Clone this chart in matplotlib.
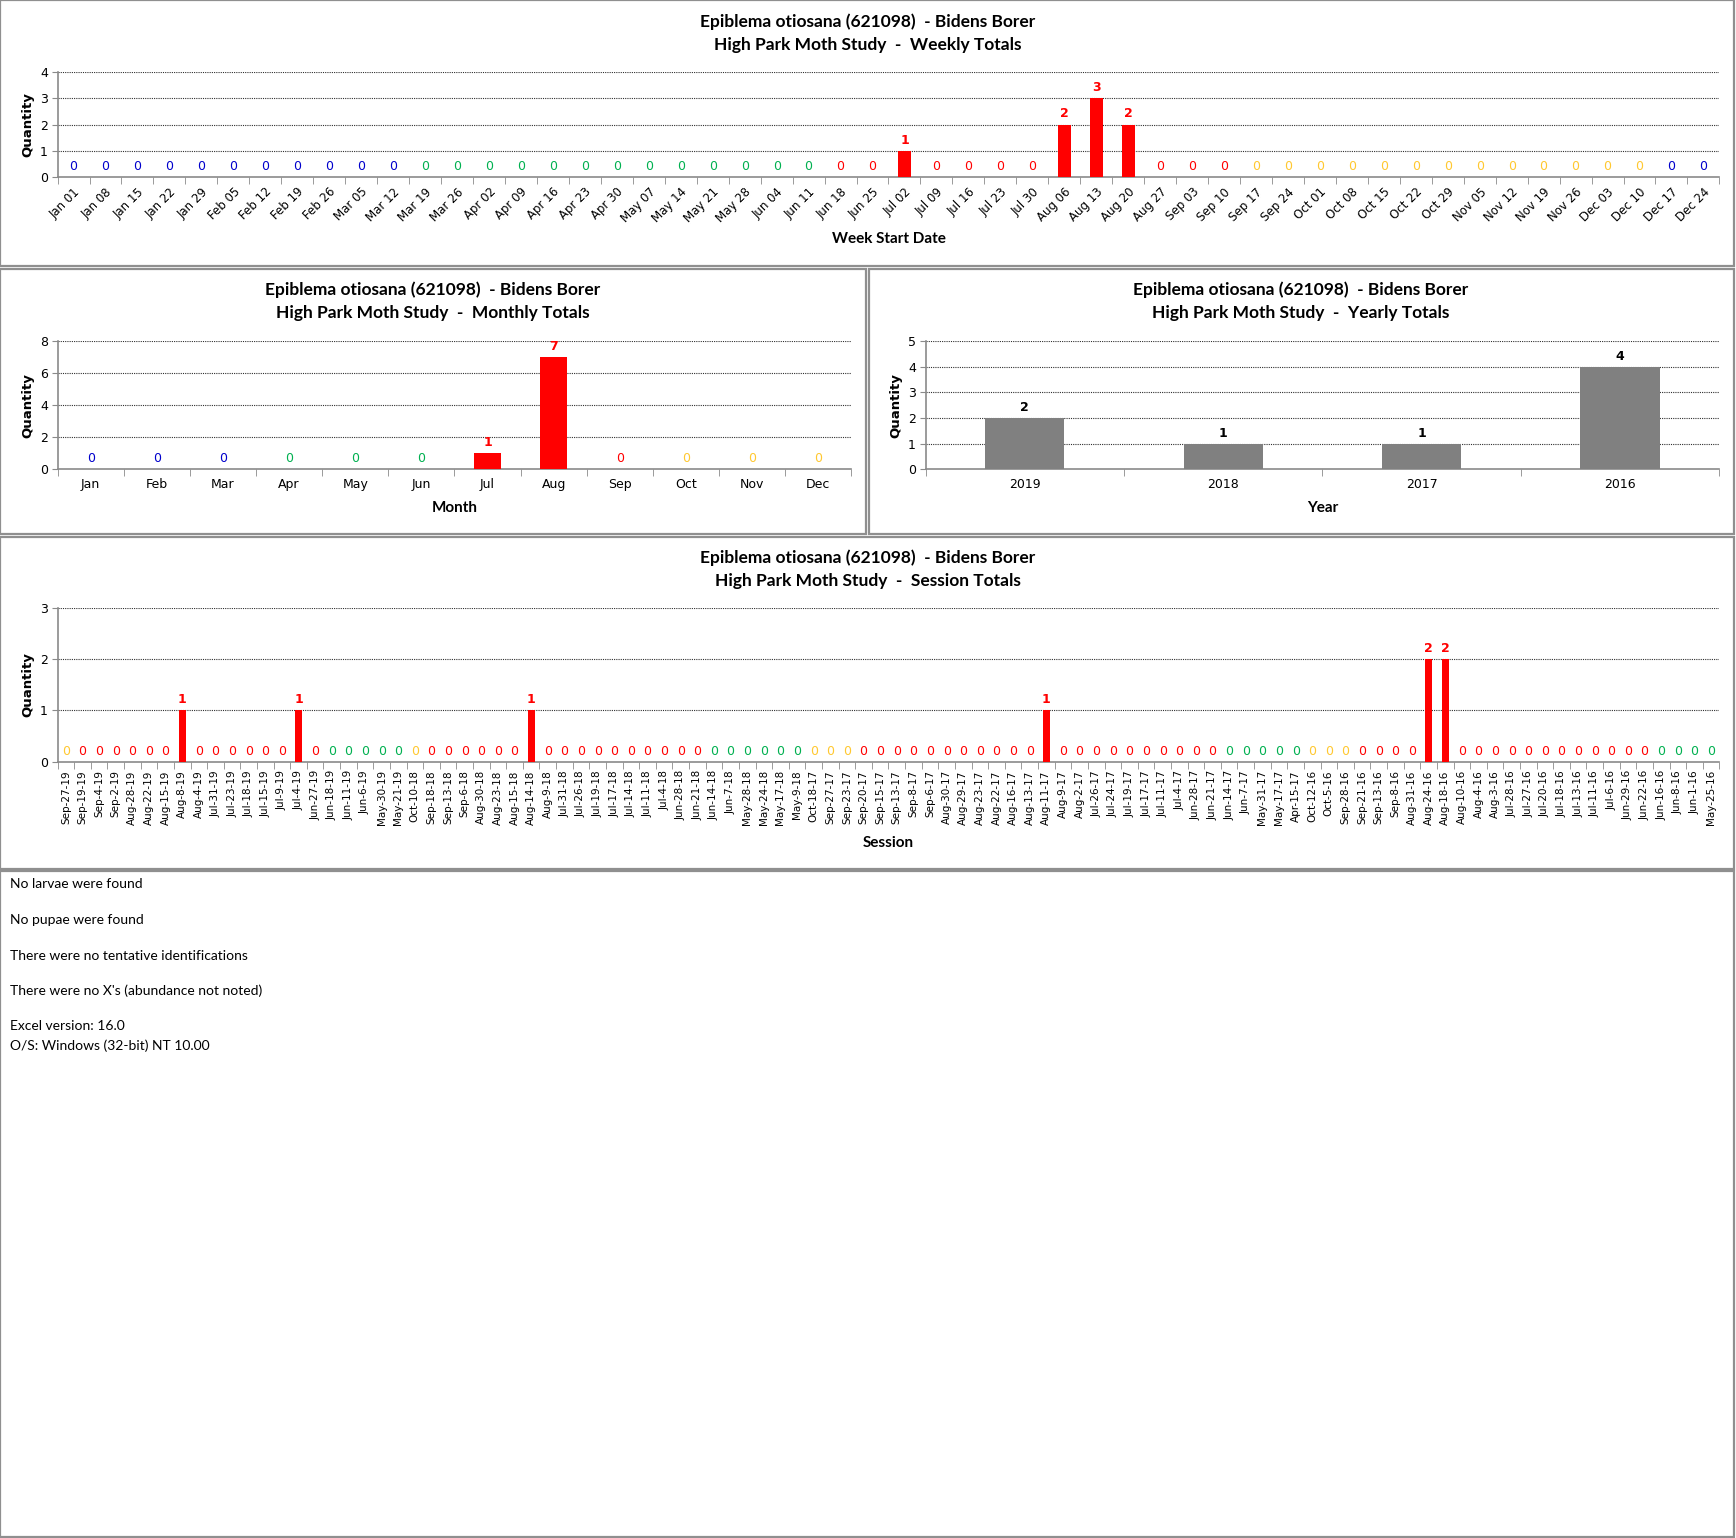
import matplotlib
matplotlib.use("Agg")
import matplotlib.pyplot as plt
from matplotlib.patches import Rectangle
from datetime import datetime, timedelta
import numpy as np

# ---- data ----
species = "Epiblema otiosana (621098)  - Bidens Borer"

week_labels = ["Jan 01", "Jan 08", "Jan 15", "Jan 22", "Jan 29", "Feb 05", "Feb 12", "Feb 19",
               "Feb 26", "Mar 05", "Mar 12", "Mar 19", "Mar 26", "Apr 02", "Apr 09", "Apr 16",
               "Apr 23", "Apr 30", "May 07", "May 14", "May 21", "May 28", "Jun 04", "Jun 11",
               "Jun 18", "Jun 25", "Jul 02", "Jul 09", "Jul 16", "Jul 23", "Jul 30", "Aug 06",
               "Aug 13", "Aug 20", "Aug 27", "Sep 03", "Sep 10", "Sep 17", "Sep 24", "Oct 01",
               "Oct 08", "Oct 15", "Oct 22", "Oct 29", "Nov 05", "Nov 12", "Nov 19", "Nov 26",
               "Dec 03", "Dec 10", "Dec 17", "Dec 24"]
week_values = [0] * 52
week_values[week_labels.index("Jul 02")] = 1
week_values[week_labels.index("Aug 06")] = 2
week_values[week_labels.index("Aug 13")] = 3
week_values[week_labels.index("Aug 20")] = 2

month_labels = ["Jan", "Feb", "Mar", "Apr", "May", "Jun", "Jul", "Aug", "Sep", "Oct", "Nov", "Dec"]
month_values = [0, 0, 0, 0, 0, 0, 1, 7, 0, 0, 0, 0]

year_labels = ["2019", "2018", "2017", "2016"]
year_values = [2, 1, 1, 4]

session_labels = [
    "Sep-27-19", "Sep-19-19", "Sep-4-19", "Sep-2-19", "Aug-28-19", "Aug-22-19", "Aug-15-19",
    "Aug-8-19", "Aug-4-19", "Jul-31-19", "Jul-23-19", "Jul-18-19", "Jul-15-19", "Jul-9-19",
    "Jul-4-19", "Jun-27-19", "Jun-18-19", "Jun-11-19", "Jun-6-19", "May-30-19", "May-21-19",
    "Oct-10-18", "Sep-18-18", "Sep-13-18", "Sep-6-18", "Aug-30-18", "Aug-23-18", "Aug-15-18",
    "Aug-14-18", "Aug-9-18", "Jul-31-18", "Jul-26-18", "Jul-19-18", "Jul-17-18", "Jul-14-18",
    "Jul-11-18", "Jul-4-18", "Jun-28-18", "Jun-21-18", "Jun-14-18", "Jun-7-18", "May-28-18",
    "May-24-18", "May-17-18", "May-9-18",
    "Oct-18-17", "Sep-27-17", "Sep-23-17", "Sep-20-17", "Sep-15-17", "Sep-13-17", "Sep-8-17",
    "Sep-6-17", "Aug-30-17", "Aug-29-17", "Aug-23-17", "Aug-22-17", "Aug-16-17", "Aug-13-17",
    "Aug-11-17", "Aug-9-17", "Aug-2-17", "Jul-26-17", "Jul-24-17", "Jul-19-17", "Jul-17-17",
    "Jul-11-17", "Jul-4-17", "Jun-28-17", "Jun-21-17", "Jun-14-17", "Jun-7-17", "May-31-17",
    "May-17-17", "Apr-15-17",
    "Oct-12-16", "Oct-5-16", "Sep-28-16", "Sep-21-16", "Sep-13-16", "Sep-8-16", "Aug-31-16",
    "Aug-24-16", "Aug-18-16", "Aug-10-16", "Aug-4-16", "Aug-3-16", "Jul-28-16", "Jul-27-16",
    "Jul-20-16", "Jul-18-16", "Jul-13-16", "Jul-11-16", "Jul-6-16", "Jun-29-16", "Jun-22-16",
    "Jun-16-16", "Jun-8-16", "Jun-1-16", "May-25-16"]
session_values = [0] * len(session_labels)
for s, v in [("Aug-8-19", 1), ("Jul-4-19", 1), ("Aug-14-18", 1), ("Aug-11-17", 1),
             ("Aug-24-16", 2), ("Aug-18-16", 2)]:
    session_values[session_labels.index(s)] = v

notes = ["No larvae were found", "No pupae were found", "There were no tentative identifications",
         "There were no X's (abundance not noted)", "Excel version: 16.0",
         "O/S: Windows (32-bit) NT 10.00"]

# ---- style ----
BLUE, GREEN, RED, YELLOW = "#0000CC", "#00B050", "#FF0000", "#FFC830"
TITLE_FONT = "Lato"
TICK_FONT = "DejaVu Sans"


def season(month, day):
    md = (month, day)
    if md >= (12, 21) or md < (3, 20):
        return BLUE
    if md < (6, 21):
        return GREEN
    if md < (9, 22):
        return RED
    return YELLOW


week_colors = []
for w in week_labels:
    d = datetime.strptime(w + " 2018", "%b %d %Y") + timedelta(days=6)
    week_colors.append(season(d.month, d.day))
month_colors = [season(i + 1, 15) for i in range(12)]
session_colors = []
for s in session_labels:
    d = datetime.strptime(s, "%b-%d-%y")
    session_colors.append(season(d.month, d.day))
year_colors = ["black"] * 4

W0, H0 = 1568, 1389  # layout measured on a 1568x1389 grid


def fx(x):
    return x / W0


def fy(y):
    return 1 - y / H0


fig = plt.figure(figsize=(17.36, 15.38), dpi=100)


def panel(x0, y0, x1, y1):
    fig.patches.append(Rectangle((fx(x0), fy(y1)), fx(x1) - fx(x0), fy(y0) - fy(y1),
                                 transform=fig.transFigure, fill=False,
                                 edgecolor="#8f8f8f", lw=1.6))


def chart(box, labels, values, colors, ymax, ystep, bar_color, rot, tick_fs):
    x0, y0, x1, y1 = box
    ax = fig.add_axes([fx(x0), fy(y1), fx(x1) - fx(x0), fy(y0) - fy(y1)])
    n = len(labels)
    pos = np.arange(n)
    ax.bar(pos, values, width=0.4, color=bar_color, zorder=3)
    ax.set_xlim(-0.5, n - 0.5)
    ax.set_ylim(0, ymax)
    ax.set_yticks(range(0, ymax + 1, ystep))
    for yv in range(ystep, ymax + 1, ystep):
        ax.axhline(yv, color="#303030", lw=0.8, ls=(0, (1, 1)), zorder=1)
    for s in ["top", "right"]:
        ax.spines[s].set_visible(False)
    for s in ["left", "bottom"]:
        ax.spines[s].set_color("#8a8a8a")
        ax.spines[s].set_linewidth(1.2)
    ax.set_xticks(pos)
    if rot == 45:
        ax.set_xticklabels(labels, rotation=45, ha="right", rotation_mode="anchor",
                           fontsize=tick_fs, family=TICK_FONT)
    elif rot == 90:
        ax.set_xticklabels(labels, rotation=90, ha="center", va="top",
                           fontsize=tick_fs, family=TICK_FONT)
    else:
        ax.set_xticklabels(labels, fontsize=tick_fs, family=TICK_FONT)
    ax.tick_params(axis="x", which="major", length=0, pad=6)
    ax.set_xticks(np.arange(-0.5, n, 1.0), minor=True)
    ax.tick_params(axis="x", which="minor", length=5, color="#8a8a8a", direction="out")
    ax.tick_params(axis="y", length=4, color="#8a8a8a", labelsize=9, pad=3)
    for lab in ax.get_yticklabels():
        lab.set_family(TICK_FONT)
    for p, v, c in zip(pos, values, colors):
        ax.annotate(str(v), (p, v), xytext=(0, 3), textcoords="offset points",
                    ha="center", va="bottom", color=c, fontsize=9, family=TICK_FONT,
                    fontweight="bold" if v > 0 else "normal", zorder=4)
    return ax


# panels
panel(0, 0, 1566, 240)
panel(0, 243, 782, 482)
panel(785, 243, 1566, 482)
panel(0, 485, 1566, 785)
panel(0, 787, 1566, 1388)

specs = [
    ((52, 65, 1553, 160), week_labels, week_values, week_colors, 4, 1, RED,
     "High Park Moth Study  -  Weekly Totals", "Week Start Date", 45, 8.5, 784, 20, 216, 25),
    ((52, 308, 769, 424), month_labels, month_values, month_colors, 8, 2, RED,
     "High Park Moth Study  -  Monthly Totals", "Month", 0, 9, 391, 262, 459, 25),
    ((836, 308, 1553, 424), year_labels, year_values, year_colors, 5, 1, "#808080",
     "High Park Moth Study  -  Yearly Totals", "Year", 0, 9, 1175, 262, 459, 809),
    ((52, 549, 1553, 688), session_labels, session_values, session_colors, 3, 1, RED,
     "High Park Moth Study  -  Session Totals", "Session", 90, 7.5, 784, 504, 761, 25),
]

for box, labs, vals, cols, ymax, ystep, bc, t2, xl, rot, tfs, tcx, ty, xly, ylx in specs:
    chart(box, labs, vals, cols, ymax, ystep, bc, rot, tfs)
    fig.text(fx(tcx), fy(ty), species, ha="center", va="center", fontsize=12.5,
             fontweight="bold", family=TITLE_FONT)
    fig.text(fx(tcx), fy(ty + 21), t2, ha="center", va="center", fontsize=12.5,
             fontweight="bold", family=TITLE_FONT)
    fig.text(fx((box[0] + box[2]) / 2), fy(xly), xl, ha="center", va="center", fontsize=11,
             fontweight="bold", family=TITLE_FONT)
    fig.text(fx(ylx), fy((box[1] + box[3]) / 2), "Quantity", ha="center", va="center",
             rotation=90, fontsize=9.5, fontweight="bold", family=TICK_FONT)

note_y = [798, 831, 863, 895, 927, 944]
for t, yy in zip(notes, note_y):
    fig.text(fx(9), fy(yy), t, ha="left", va="center", fontsize=10, family=TITLE_FONT)

fig.savefig("out.png", dpi=100)
